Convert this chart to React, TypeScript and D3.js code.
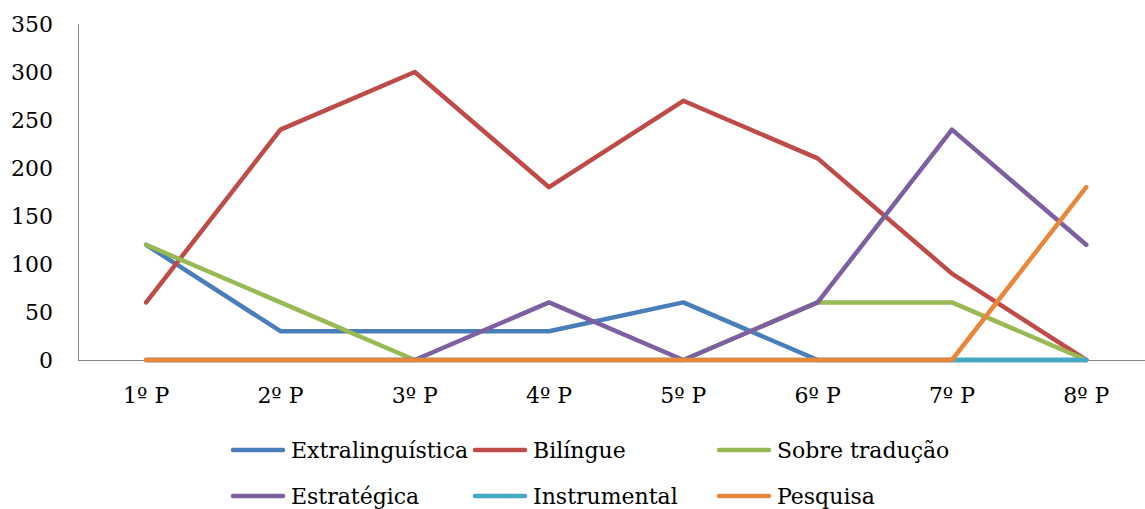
import React from "react";
import * as d3 from "d3";

// Periods on the x axis
const categories = ["1º P", "2º P", "3º P", "4º P", "5º P", "6º P", "7º P", "8º P"];

// Series values per period
const extralinguistica = [120, 30, 30, 30, 60, 0, 0, 0];
const bilingue = [60, 240, 300, 180, 270, 210, 90, 0];
const sobreTraducao = [120, 60, 0, 0, 0, 60, 60, 0];
const estrategica = [0, 0, 0, 60, 0, 60, 240, 120];
const instrumental = [0, 0, 0, 0, 0, 0, 0, 0];
const pesquisa = [0, 0, 0, 0, 0, 0, 0, 180];

const yTicks = [0, 50, 100, 150, 200, 250, 300, 350];

const series = [
  { name: "Extralinguística", values: extralinguistica, color: "#4A7EBB" },
  { name: "Bilíngue", values: bilingue, color: "#BE4B48" },
  { name: "Sobre tradução", values: sobreTraducao, color: "#98B954" },
  { name: "Estratégica", values: estrategica, color: "#7D60A0" },
  { name: "Instrumental", values: instrumental, color: "#46AAC5" },
  { name: "Pesquisa", values: pesquisa, color: "#E8873A" },
];

const W = 1145;
const H = 509;
const FONT = "'DejaVu Serif', 'Liberation Serif', serif";
const FS = 22;

export default function App() {
  const plotLeft = 79;
  const band = 134.3;
  const x = d3
    .scaleBand<string>()
    .domain(categories)
    .range([plotLeft, plotLeft + band * categories.length])
    .paddingInner(0)
    .paddingOuter(0);
  const y = d3.scaleLinear().domain([0, 350]).range([360, 24]);
  const cx = (c: string) => (x(c) ?? 0) + x.bandwidth() / 2;

  const line = d3
    .line<number>()
    .x((_, i) => cx(categories[i]))
    .y((v) => y(v));

  const legendCols = [231, 473, 717];
  const legendRows = [450, 496];

  return (
    <svg
      width={W}
      height={H}
      style={{ position: "absolute", left: 0, top: 0, display: "block", fontFamily: FONT }}
    >
      <rect width={W} height={H} fill="#ffffff" />
      {/* axes */}
      <line x1={plotLeft - 0.5} x2={plotLeft - 0.5} y1={y(350)} y2={y(0)} stroke="#868686" strokeWidth={1} />
      <line x1={plotLeft - 1} x2={W} y1={y(0) + 0.5} y2={y(0) + 0.5} stroke="#868686" strokeWidth={1} />
      {yTicks.map((t) => (
        <text key={t} x={53} y={y(t)} dy="0.35em" textAnchor="end" fontSize={FS} fill="#000">
          {t}
        </text>
      ))}
      {categories.map((c) => (
        <text key={c} x={cx(c)} y={395} dy="0.35em" textAnchor="middle" fontSize={FS} fill="#000">
          {c}
        </text>
      ))}
      {/* series lines */}
      {series.map((s) => (
        <path
          key={s.name}
          d={line(s.values) ?? ""}
          fill="none"
          stroke={s.color}
          strokeWidth={4.5}
          strokeLinejoin="round"
          strokeLinecap="round"
        />
      ))}
      {/* legend */}
      {series.map((s, i) => {
        const lx = legendCols[i % 3];
        const ly = legendRows[Math.floor(i / 3)];
        return (
          <g key={s.name}>
            <line x1={lx + 2} x2={lx + 52} y1={ly} y2={ly} stroke={s.color} strokeWidth={4.5} strokeLinecap="round" />
            <text x={lx + 60} y={ly} dy="0.35em" fontSize={FS} fill="#000">
              {s.name}
            </text>
          </g>
        );
      })}
    </svg>
  );
}
